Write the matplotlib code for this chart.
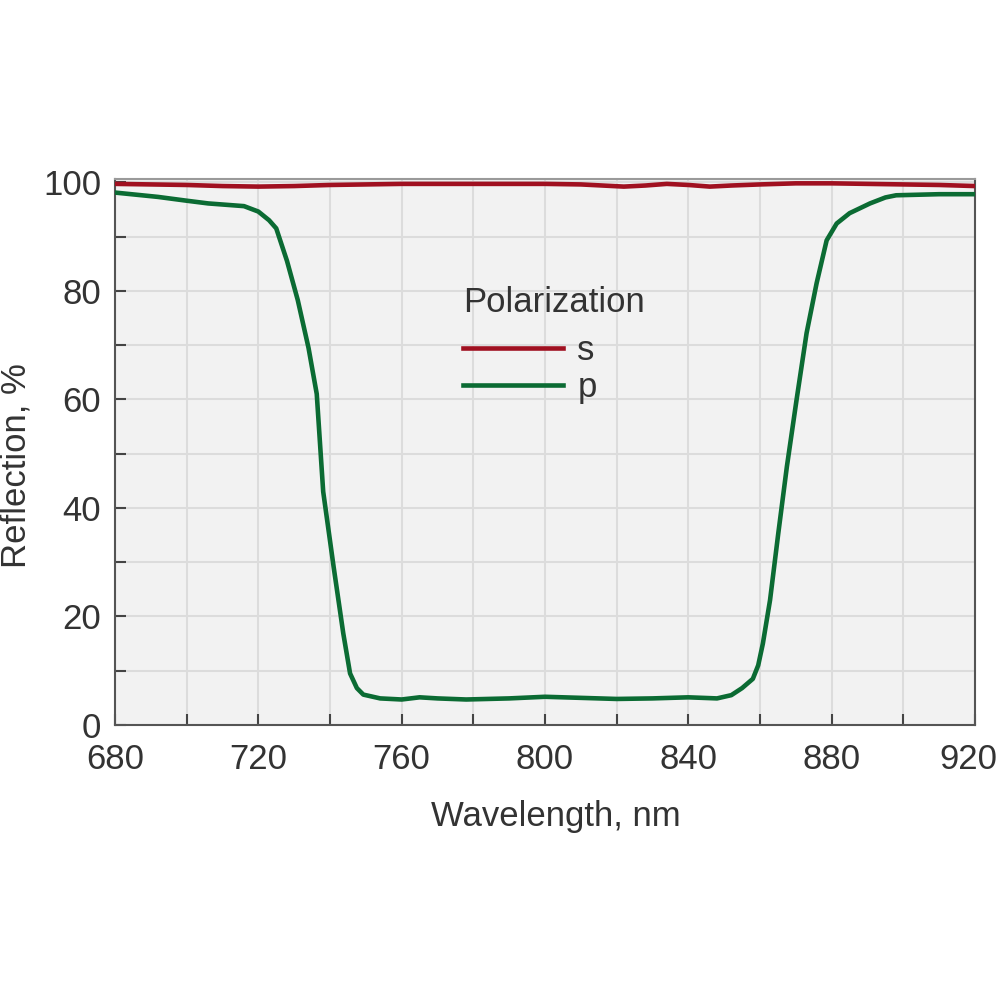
import matplotlib
matplotlib.use("Agg")
import matplotlib.pyplot as plt
from matplotlib.ticker import MultipleLocator
from matplotlib.transforms import ScaledTranslation

plt.rcParams['font.family'] = ['Liberation Sans', 'DejaVu Sans']

# s-polarization reflection
wl_s = [680, 690, 700, 710, 720, 730, 740, 760, 780, 800, 810, 816, 822, 828, 834, 840, 846, 852, 860, 870, 880, 890, 900, 910, 920]
refl_s = [99.7, 99.6, 99.5, 99.3, 99.2, 99.3, 99.5, 99.7, 99.7, 99.7, 99.6, 99.4, 99.2, 99.4, 99.7, 99.5, 99.2, 99.4, 99.6, 99.8, 99.8, 99.7, 99.6, 99.5, 99.3]

# p-polarization reflection
wl_p = [680, 692, 700, 706, 712, 716, 720, 723, 725, 728, 731, 734, 736.3, 738.1, 741, 743.7, 745.6, 747.5,
        749.3, 754, 760, 765, 770, 778, 790, 800, 810, 820, 830, 840, 848, 852, 855, 858, 859.5, 860.8,
        862.8, 865.1, 867.5, 870.2, 873, 875.8, 878.6, 881.4, 885, 890.7, 895, 898, 910, 920]
refl_p = [98.1, 97.3, 96.6, 96.1, 95.8, 95.6, 94.6, 93.0, 91.5, 85.5, 78.3, 69.5, 61.0, 43.0, 29.2, 16.9, 9.5, 6.8,
          5.6, 4.9, 4.7, 5.1, 4.9, 4.7, 4.9, 5.2, 5.0, 4.8, 4.9, 5.1, 4.9, 5.5, 6.8, 8.5, 11.0, 15.0,
          23.0, 35.3, 47.6, 59.9, 72.2, 81.4, 89.3, 92.4, 94.3, 96.1, 97.2, 97.6, 97.8, 97.8]

series_labels = ['s', 'p']
legend_title = 'Polarization'

red = '#a01020'
green = '#0b6b33'
text_col = '#333333'
fs = 25

fig = plt.figure(figsize=(10, 10), dpi=100)
ax = fig.add_axes([0.115, 0.275, 0.86, 0.546])
ax.set_facecolor('#f2f2f2')

ax.plot(wl_s, refl_s, color=red, lw=3.3, label=series_labels[0], zorder=3)
ax.plot(wl_p, refl_p, color=green, lw=3.3, label=series_labels[1], zorder=3)

ax.set_xlim(680, 920)
ax.set_ylim(0, 100.6)

ax.xaxis.set_major_locator(MultipleLocator(40))
ax.xaxis.set_minor_locator(MultipleLocator(20))
ax.yaxis.set_major_locator(MultipleLocator(20))
ax.yaxis.set_minor_locator(MultipleLocator(10))

ax.grid(which='both', color='#dcdcdc', lw=1.5, zorder=0)
ax.set_axisbelow(True)

ax.tick_params(which='both', direction='in', length=8, width=1.5, color='#444444',
               labelsize=fs, labelcolor=text_col)
ax.tick_params(axis='x', which='both', pad=13)
ax.tick_params(axis='y', which='both', pad=10)

for side in ['left', 'bottom', 'right']:
    ax.spines[side].set_color('#555555')
    ax.spines[side].set_linewidth(1.5)
ax.spines['top'].set_color('#9a9a9a')
ax.spines['top'].set_linewidth(1.5)

ax.set_xlabel('Wavelength, nm', fontsize=fs, color=text_col)
ax.set_ylabel('Reflection, %', fontsize=fs, color=text_col)
ax.xaxis.set_label_coords(0.513, -0.137)
ax.yaxis.set_label_coords(-0.096, 0.476)

# nudge the last x tick label so it stays inside the figure
fig.canvas.draw()
last = ax.xaxis.get_major_ticks()[-1]
for tk in ax.xaxis.get_major_ticks():
    if abs(tk.get_loc() - 920) < 1e-6:
        last = tk
last.label1.set_transform(last.label1.get_transform() + ScaledTranslation(-5 / 72, 0, fig.dpi_scale_trans))

leg = ax.legend(title=legend_title, loc='upper left', bbox_to_anchor=(0.368, 0.861),
                frameon=False, fontsize=fs, title_fontsize=fs, handlelength=2.9,
                handletextpad=0.4, labelspacing=0.1, alignment='left')
leg._legend_box.sep = 11
for t in leg.get_texts():
    t.set_color(text_col)
leg.get_title().set_color(text_col)

fig.savefig('out.png', dpi=100, facecolor='white')
